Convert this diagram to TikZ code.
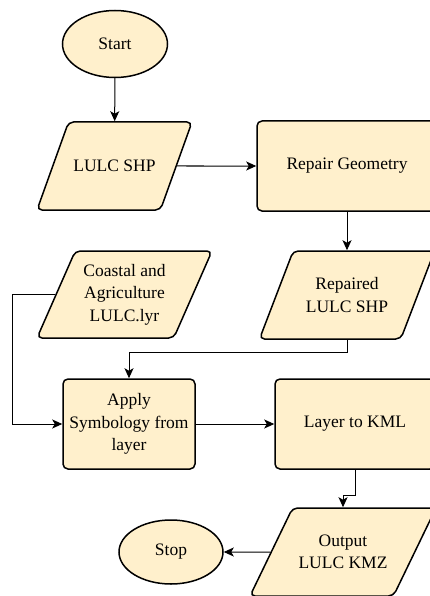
\documentclass[tikz,border=0pt]{standalone}
\usepackage{fontspec}
\setmainfont{Liberation Serif}
\usepackage{xcolor}
\usepackage{tikz}
\usetikzlibrary{shapes.geometric,arrows.meta}
\definecolor{boxfill}{HTML}{FFF0CC}
\newcommand{\flowfont}{\fontsize{17.5}{22.5}\selectfont}

\begin{document}
\begin{tikzpicture}[x=1pt,y=1pt]
\tikzstyle{every node}+=[inner sep=2pt, font=\flowfont, align=center]
\tikzstyle{term}=[ellipse, draw=black, line width=1.5pt, fill=boxfill]
\tikzstyle{proc}=[rectangle, rounded corners=5pt, draw=black, line width=1.5pt, fill=boxfill]
\tikzstyle{io}=[trapezium, trapezium stretches body=true, trapezium left angle=67, trapezium right angle=113, rounded corners=5pt, draw=black, line width=1.5pt, fill=boxfill]
\tikzstyle{arr}=[black, line width=1pt, -{Stealth[length=10pt,width=9pt,inset=2.5pt]}]
\clip (0,0) rectangle (430,-596);
\node [term, minimum width=105pt, minimum height=67pt] (start) at (115,-44) {Start};
\node [io, trapezium left angle=70, trapezium right angle=110, inner ysep=37.5pt, minimum width=155pt, minimum height=88pt] (lulc) at (114.5,-166) {LULC SHP};
\node [proc, minimum width=180pt, minimum height=90pt] (repair) at (347,-166) {Repair Geometry};
\node [io, trapezium left angle=66, trapezium right angle=114, inner ysep=12.5pt, minimum width=175pt, minimum height=87pt] (lyr) at (124.5,-294.5) {Coastal and\\Agriculture\\LULC.lyr};
\node [io, trapezium left angle=69, trapezium right angle=111, inner ysep=26.5pt, minimum width=175pt, minimum height=88pt] (repaired) at (347,-295) {Repaired\\LULC SHP};
\node [proc, minimum width=132pt, minimum height=90pt] (apply) at (129,-424) {Apply\\Symbology from\\layer};
\node [proc, minimum width=160pt, minimum height=90pt] (kml) at (355,-424) {Layer to KML};
\node [io, trapezium left angle=64, trapezium right angle=116, inner ysep=26.5pt, minimum width=186pt, minimum height=88pt] (kmz) at (343,-552) {Output\\LULC KMZ};
\node [term, minimum width=104pt, minimum height=64pt] (stop) at (171,-552) {Stop};
\coordinate (lft) at (12,0);
\draw [arr] (start) -- (lulc);
\draw [arr] (lulc) -- (repair);
\draw [arr] (repair) -- (repaired);
\draw [arr] (repaired.south) -- ++(0,-13) -| (apply.north);
\draw [arr] (lyr.west) -- (lyr.west -| lft) |- (apply.west);
\draw [arr] (apply) -- (kml);
\draw [arr] (kml.south) -- ++(0,-26) -| (kmz.north);
\draw [arr] (kmz) -- (stop);
\end{tikzpicture}
\end{document}
